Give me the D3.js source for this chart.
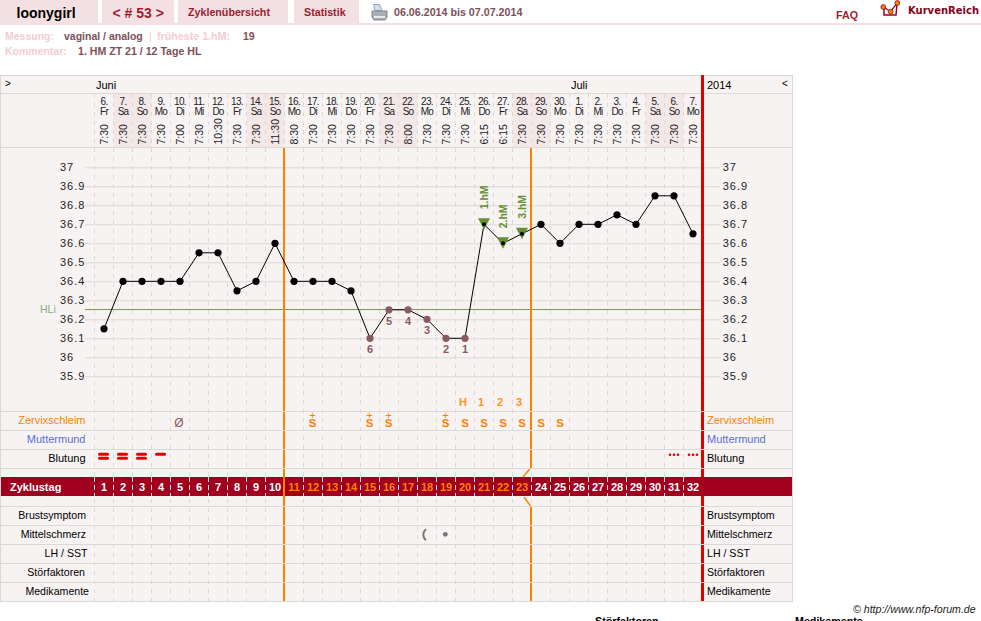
<!DOCTYPE html>
<html><head><meta charset="utf-8">
<script src="https://cdn.jsdelivr.net/npm/d3@7/dist/d3.min.js"></script>
<style>
html,body{margin:0;padding:0;background:#fff;overflow:hidden}
svg{display:block;font-family:"Liberation Sans",Arial,sans-serif}
text{white-space:pre}
</style></head><body><svg id="c" width="981" height="621"></svg>
<script>
// Cycle chart: one entry per cycle day, 06.06.2014 to 07.07.2014
const dates = ["6","7","8","9","10","11","12","13","14","15","16","17","18","19","20","21","22","23","24","25","26","27","28","29","30","1","2","3","4","5","6","7"];
const weekdays = ["Fr","Sa","So","Mo","Di","Mi","Do","Fr","Sa","So","Mo","Di","Mi","Do","Fr","Sa","So","Mo","Di","Mi","Do","Fr","Sa","So","Mo","Di","Mi","Do","Fr","Sa","So","Mo"];
const times = ["7:30","7:30","7:30","7:30","7:00","7:30","10:30","7:30","7:30","11:30","8:30","7:30","7:30","7:30","7:30","7:30","8:00","7:30","7:30","7:30","6:15","6:15","7:30","7:30","7:30","7:30","7:30","7:30","7:30","7:30","7:30","7:30"];
const temps = [36.15,36.4,36.4,36.4,36.4,36.55,36.55,36.35,36.4,36.6,36.4,36.4,36.4,36.35,36.1,36.25,36.25,36.2,36.1,36.1,36.7,36.6,36.65,36.7,36.6,36.7,36.7,36.75,36.7,36.85,36.85,36.65];
const cycleDays = d3.range(1,33);
const tempTicks = [37,36.9,36.8,36.7,36.6,36.5,36.4,36.3,36.2,36.1,36,35.9];
const lowDays = [[15,"6"],[16,"5"],[17,"4"],[18,"3"],[19,"2"],[20,"1"]];
const riseDays = [[21,"1.hM"],[22,"2.hM"],[23,"3.hM"]];
const mucusDays = [[12,"S+"],[15,"S+"],[16,"S+"],[19,"S+"],[20,"S"],[21,"S"],[22,"S"],[23,"S"],[24,"S"],[25,"S"]];
const peakDays = [[20,"H"],[21,"1"],[22,"2"],[23,"3"]];
const heavyBleed = [1,2,3];
const lightBleed = [4];
const spotting = [31,32];
const rowLabels = ["Zervixschleim","Muttermund","Blutung"];
const lowerLabels = ["Brustsymptom","Mittelschmerz","LH / SST","Störfaktoren","Medikamente"];
const coverLine = 36.25, firstPhaseEnd = 10, secondPhaseEnd = 23;

const GRID="#dcd8d8", BG="#f8f3f3", TINT="#f3e0e3", SHADE="#f4e7e8", WINE="#a0001e", ORANGE="#ff8000", RED="#e00000", GREEN="#64902f", MAUVE="#8a5a60", HEAD="#a01c30";
const svg=d3.select("#c");
const x=d3.scaleLinear().domain([0,32]).range([94.5,702.5]);
const cx=d=>x(d-0.5);
const y=d3.scaleLinear().domain([37,35.9]).range([167.3,376.3]);

function txt(g,s,px,py,o={}){
  return g.append("text").attr("x",px).attr("y",py).text(s)
   .attr("font-size",o.size||11).attr("font-weight",o.bold?"bold":null)
   .attr("fill",o.fill||"#000").attr("text-anchor",o.anchor||"start")
   .attr("font-style",o.italic?"italic":null);
}

// page header
const head=svg.append("g");
[[0,98],[102,72],[178,110],[294,65]].forEach(([l,w])=>head.append("rect").attr("x",l).attr("y",0).attr("width",w).attr("height",23).attr("fill",TINT));
head.append("rect").attr("x",0).attr("y",23).attr("width",981).attr("height",2).attr("fill",TINT);
txt(head,"loonygirl",16.5,18,{size:14,bold:1});
txt(head,"< # 53 >",112.5,18,{size:14,bold:1,fill:HEAD});
txt(head,"Zyklenübersicht",188,16,{size:10.7,bold:1,fill:HEAD});
txt(head,"Statistik",304,16,{size:10.7,bold:1,fill:HEAD});
txt(head,"06.06.2014 bis 07.07.2014",394,16,{size:10.7,bold:1,fill:"#7d5058"});
txt(head,"FAQ",836,18.5,{size:10.7,bold:1,fill:HEAD});
txt(head,"KurvenReich",908,14,{size:10,bold:1,fill:"#8a0018"}).attr("font-family","DejaVu Sans");

// printer icon
const pr=head.append("g");
pr.append("path").attr("d","M373.5 4.5h6l2.5 6h-7z").attr("fill","#cfe0ee").attr("stroke","#8fa8bc");
pr.append("path").attr("d","M372 11h15v6l-2 3h-11l-2-3z").attr("fill","#a9b0b4").attr("stroke","#7f878c");
pr.append("rect").attr("x",374).attr("y",16).attr("width",11).attr("height",2).attr("fill","#e6eaec");

// logo
const lg=head.append("g").attr("fill","none").attr("stroke",WINE);
lg.append("path").attr("d","M884 8v7h12l1-11").attr("stroke-width",1.5);
lg.append("path").attr("d","M883.5 7l7 4.7 6.5-8.5").attr("stroke-width",1.2);
[[883.3,7],[890.6,11.7],[897.3,3]].forEach(([a,b])=>lg.append("circle").attr("cx",a).attr("cy",b).attr("r",2.4).attr("fill","#f08a00").attr("stroke-width",.8));

// measurement notes
const notes=svg.append("g");
txt(notes,"Messung:",5,40,{size:10.5,bold:1,fill:"#f5ccd0"});
txt(notes,"vaginal / analog",64,40,{size:10.5,bold:1,fill:"#7d5058"});
txt(notes,"|",149,40,{size:10.5,fill:"#f5ccd0"});
txt(notes,"früheste 1.hM:",157,40,{size:10.7,bold:1,fill:"#f5ccd0"});
txt(notes,"19",243,40,{size:10.5,bold:1,fill:"#7d5058"});
txt(notes,"Kommentar:",5,55,{size:10.5,bold:1,fill:"#f5ccd0"});
txt(notes,"1. HM ZT 21 / 12 Tage HL",78,55,{size:10.6,bold:1,fill:"#7d5058"});

// chart panel
svg.append("rect").attr("x",0.5).attr("y",75.5).attr("width",792).attr("height",526).attr("fill",BG).attr("stroke",GRID);
const grid=svg.append("g");

// weekend shading in the date header
cycleDays.forEach((d,i)=>{ if(weekdays[i]==="Sa"||weekdays[i]==="So")
  grid.append("rect").attr("x",x(i)).attr("y",94).attr("width",19).attr("height",54).attr("fill",SHADE);});

const hLine=(g,yy,a,b)=>g.append("line").attr("x1",a).attr("x2",b).attr("y1",yy).attr("y2",yy).attr("stroke",GRID);
[93.5,147.5].forEach(v=>hLine(grid,v,0,792));

// vertical dashed day separators
grid.selectAll("line.day").data(d3.range(0,32)).join("line").attr("class","day")
 .attr("x1",d=>Math.floor(x(d))+.5).attr("x2",d=>Math.floor(x(d))+.5).attr("y1",94).attr("y2",601)
 .attr("stroke",GRID).attr("stroke-dasharray","4 5");

// temperature scale, repeated on both sides
function tempAxis(px,tx,len){
  const g=svg.append("g").attr("class","temp-axis").attr("transform",`translate(${px},0)`)
   .call(d3.axisRight(y).tickValues(tempTicks).tickSize(len).tickFormat(d3.format("")));
  g.select(".domain").remove();
  g.selectAll("line").attr("stroke",GRID);
  g.selectAll("text").attr("x",tx).attr("font-size",11).attr("letter-spacing",1).attr("fill","#222").attr("font-family","Liberation Sans").attr("dy","0.32em");
}
tempAxis(85,-25,617);
tempAxis(703,19.7,17);

// cover line
svg.append("line").attr("x1",85).attr("x2",702).attr("y1",Math.round(y(coverLine))-.5).attr("y2",Math.round(y(coverLine))-.5).attr("stroke","#7a9a58");
txt(svg,"HLi",40,313,{size:10.5,fill:"#8fa878"});

// header cells
const hdr=svg.append("g");
txt(hdr,">",5,87,{size:10});
txt(hdr,"Juni",96,89);
txt(hdr,"Juli",571,89);
txt(hdr,"2014",707,89);
txt(hdr,"<",782,87,{size:10});
cycleDays.forEach((d,i)=>{
  txt(hdr,dates[i]+".",cx(d),105,{size:10,anchor:"middle",fill:"#222"}).attr("letter-spacing",-0.6);
  txt(hdr,weekdays[i],cx(d),115,{size:10,anchor:"middle",fill:"#222"}).attr("letter-spacing",-0.8);
  hdr.append("text").attr("transform",`translate(${cx(d)+3.5},144.5) rotate(-90)`).text(times[i]).attr("font-size",10.5).attr("fill","#222");
});

// row captions
const cap=svg.append("g");
rowLabels.forEach((s,i)=>{
  const c=["#ff8000","#5a70d0","#000"][i], yy=424+19*i;
  txt(cap,s,85.5,yy,{anchor:"end",fill:c});
  txt(cap,s,707,yy,{fill:c});
});
lowerLabels.forEach((s,i)=>{
  const yy=519+19*i, a=[86,86,87.5,85,89][i];
  txt(cap,s,a,yy,{anchor:"end",size:10.6});
  txt(cap,s,707,yy,{size:10.6});
});

// cycle day band
const band=svg.append("g");
band.append("rect").attr("x",1).attr("y",477).attr("width",791).attr("height",19).attr("fill",WINE);
txt(band,"Zyklustag",10,491,{bold:1,fill:"#fff"});
band.selectAll("line").data(d3.range(0,32)).join("line")
 .attr("x1",d=>Math.floor(x(d))+.5).attr("x2",d=>Math.floor(x(d))+.5).attr("y1",477).attr("y2",496)
 .attr("stroke","#eedfe0").attr("stroke-dasharray","5 3");
band.selectAll("text.n").data(cycleDays).join("text").attr("class","n")
 .attr("x",cx).attr("y",491).attr("text-anchor","middle").attr("font-size",11).attr("font-weight","bold")
 .attr("fill",d=>d>firstPhaseEnd&&d<=secondPhaseEnd?ORANGE:"#fff").text(d=>d);

// phase boundaries
const px1=x(firstPhaseEnd)-.5, px2=x(secondPhaseEnd)-.5;
const phase=svg.append("g").attr("stroke",ORANGE).attr("stroke-width",2).attr("fill","none");
phase.append("line").attr("x1",px1).attr("x2",px1).attr("y1",148).attr("y2",601);
phase.append("path").attr("d",`M${px2} 148V468`);
phase.append("path").attr("d",`M${px2-.5} 468L${px2-8} 477`).attr("stroke-width",1.4);
phase.append("path").attr("d",`M${px2-7} 497L${px2-.5} 506`).attr("stroke-width",1.4);
phase.append("path").attr("d",`M${px2} 506V601`);
const redLine=svg.append("g").attr("stroke",RED).attr("stroke-width",3);
[[75,477],[496,601]].forEach(([a,b])=>redLine.append("line").attr("x1",x(32)).attr("x2",x(32)).attr("y1",a).attr("y2",b));

// row separators run across the phase boundaries
const rows=svg.append("g");
[411.5,430.5,449.5,468.5,506.5,525.5,544.5,563.5,582.5].forEach(v=>hLine(rows,v,0,792));

// temperature curve
const line=d3.line().x((d,i)=>cx(i+1)).y(d=>y(d));
svg.append("path").attr("d",line(temps)).attr("fill","none").attr("stroke","#000").attr("stroke-width",1);
const lowSet=new Set(lowDays.map(d=>d[0])), riseSet=new Set(riseDays.map(d=>d[0]));
svg.selectAll("circle.t").data(cycleDays).join("circle").attr("class","t")
 .attr("cx",cx).attr("cy",d=>y(temps[d-1])).attr("r",d=>riseSet.has(d)?2:3.6)
 .attr("fill",d=>lowSet.has(d)?MAUVE:"#000");

// six lows before the rise
lowDays.forEach(([d,s])=>txt(svg,s,cx(d),y(temps[d-1])+15,{size:11,bold:1,anchor:"middle",fill:MAUVE}));

// high measurements
riseDays.forEach(([d,s])=>{
  const v=y(temps[d-1]);
  svg.insert("path","circle.t").attr("d",`M${cx(d)-6} ${v-6}h12l-6 11.5z`).attr("fill",GREEN);
  svg.append("text").attr("transform",`translate(${cx(d)+4},${v-15}) rotate(-90)`).text(s)
   .attr("font-size",10.5).attr("font-weight","bold").attr("fill",GREEN);
});

// peak day counting
peakDays.forEach(([d,s])=>txt(svg,s,cx(d)-(s==="H"?2:3),406,{size:11,bold:1,anchor:"middle",fill:"#ff9020"}));

// mucus codes
mucusDays.forEach(([d,s])=>{
  txt(svg,"S",cx(d)-(d>=20?0:.5),427,{size:11.5,bold:1,anchor:"middle",fill:ORANGE});
  if(s==="S+") txt(svg,"+",cx(d)-.5,419,{size:11,anchor:"middle",fill:ORANGE});
});
txt(svg,"Ø",cx(5)-1,427,{size:12,anchor:"middle",fill:MAUVE});

// bleeding marks
const bleed=svg.append("g").attr("fill",RED);
const bar=(d,v)=>bleed.append("rect").attr("x",cx(d)-6).attr("y",v).attr("width",11).attr("height",3).attr("rx",1.5);
heavyBleed.forEach(d=>[452.7,456.7].forEach(v=>bar(d,v)));
lightBleed.forEach(d=>bar(d,452.7));
spotting.forEach(d=>[-4,0,4].forEach(o=>bleed.append("circle").attr("cx",cx(d)+o).attr("cy",454.7).attr("r",1.3)));

// pain symptoms
svg.append("path").attr("d","M426 529.3a7 7 0 0 0 0 11").attr("fill","none").attr("stroke","#777").attr("stroke-width",1.9);
svg.append("circle").attr("cx",445.3).attr("cy",534.3).attr("r",2.4).attr("fill","#777");

// footer
txt(svg,"© http://www.nfp-forum.de",853,613,{size:10.6,italic:1,fill:"#222"});
txt(svg,"Störfaktoren",595,625,{size:10.7,bold:1});
txt(svg,"Medikamente",795,625,{size:10.7,bold:1});
</script></body></html>
